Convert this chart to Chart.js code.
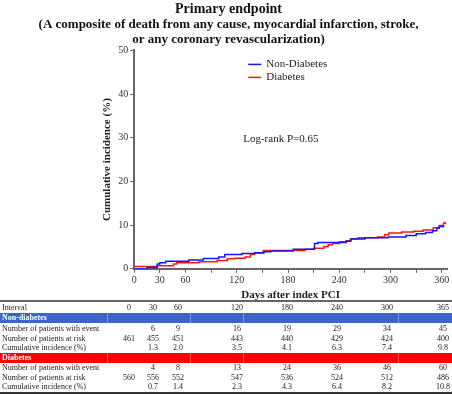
<!DOCTYPE html>
<html>
<head>
<meta charset="utf-8">
<script src="https://cdn.jsdelivr.net/npm/chart.js@4"></script>
<style>
  body { margin: 0; background: #fff; }
  #wrap { position: relative; width: 452px; height: 395px; overflow: hidden; font-family: "Liberation Serif", serif; }
  #chartBox { position: absolute; left: 0; top: 0; width: 452px; height: 302px; }
  #table { position: absolute; left: 0; top: 300px; width: 452px; height: 95px; font-size: 8px; color: #1a1a1a; }
  .row { position: absolute; left: 0; width: 452px; height: 10px; line-height: 10px; }
  .row span { position: absolute; top: 0; }
  .band { color: #fff; font-weight: bold; }
  .sep { position: absolute; top: 0; width: 1px; height: 100%; background: rgba(255,255,255,0.35); }
</style>
</head>
<body>
<div id="wrap">
  <div id="chartBox"><canvas id="kmChart"></canvas></div>
  <div id="table"></div>
</div>
<script>
// curve data (days, cumulative incidence %)
let nonDiabetesDays = [0, 15, 27, 30, 37, 64, 81, 99, 106, 126, 141, 152, 160, 186, 211, 215, 248, 253, 270, 297, 318, 330, 341, 349, 354, 357, 362];
let nonDiabetesInc = [0, 0.3, 1.1, 1.4, 1.7, 2.0, 2.35, 2.7, 3.3, 3.5, 3.7, 3.9, 4.1, 4.5, 5.8, 6.0, 6.3, 6.8, 7.1, 7.3, 7.6, 8.0, 8.3, 8.7, 9.3, 9.7, 9.8];

let diabetesDays = [0, 27, 46, 50, 76, 97, 109, 118, 130, 136, 141, 151, 200, 210, 222, 227, 232, 240, 248, 254, 262, 285, 293, 298, 313, 327, 338, 350, 357, 362, 364];
let diabetesInc = [0.5, 0.7, 1.1, 1.4, 1.6, 1.9, 2.3, 2.4, 2.7, 3.3, 3.6, 4.2, 4.5, 4.7, 5.1, 5.5, 5.8, 6.2, 6.4, 6.9, 7.1, 7.3, 7.8, 8.2, 8.4, 8.6, 8.9, 9.4, 9.9, 10.4, 10.8];

let xTicks = [0, 30, 60, 90, 120, 150, 180, 210, 240, 270, 300, 330, 360];
let xLabelled = [0, 30, 60, 120, 180, 240, 300, 360];
let yTicks = [0, 10, 20, 30, 40, 50];

// risk table
let interval = [0, 30, 60, 120, 180, 240, 300, 365];
let nonDiabetesEvents = ["", 6, 9, 16, 19, 29, 34, 45];
let nonDiabetesAtRisk = [461, 455, 451, 443, 440, 429, 424, 400];
let nonDiabetesCumInc = ["", "1.3", "2.0", "3.5", "4.1", "6.3", "7.4", "9.8"];
let diabetesEvents = ["", 4, 8, 13, 24, 36, 46, 60];
let diabetesAtRisk = [560, 556, 552, 547, 536, 524, 512, 486];
let diabetesCumInc = ["", "0.7", "1.4", "2.3", "4.3", "6.4", "8.2", "10.8"];

let serif = "'Liberation Serif', 'Times New Roman', serif";

function toPoints(days, vals) {
    return days.map((d, i) => ({ x: d, y: vals[i] }));
}

// legend + log-rank text inside the plot
let notes = {
    id: "notes",
    afterDraw(chart) {
        let c = chart.ctx;
        let a = chart.chartArea;
        let lx = a.left + 114;
        let ly = a.top + 14;
        c.save();
        c.font = "11px " + serif;
        c.textBaseline = "middle";
        c.fillStyle = "#222";
        chart.data.datasets.forEach((ds, i) => {
            let y = ly + i * 13;
            c.strokeStyle = ds.borderColor;
            c.lineWidth = 1.5;
            c.beginPath();
            c.moveTo(lx, y);
            c.lineTo(lx + 13, y);
            c.stroke();
            c.fillText(ds.label, lx + 18, y);
        });
        c.fillText("Log-rank P=0.65", a.left + 109, a.top + 89);
        c.restore();
    }
};

let ctx = document.getElementById("kmChart").getContext("2d");
let chart = new Chart(ctx, {
    type: "line",
    data: {
        datasets: [
            {
                label: "Non-Diabetes",
                data: toPoints(nonDiabetesDays, nonDiabetesInc),
                borderColor: "rgb(20,20,255)",
                borderWidth: 1.5,
                stepped: true,
                pointRadius: 0,
                fill: false
            },
            {
                label: "Diabetes",
                data: toPoints(diabetesDays, diabetesInc),
                borderColor: "rgb(255,20,20)",
                borderWidth: 1.5,
                stepped: true,
                pointRadius: 0,
                fill: false
            }
        ]
    },
    options: {
        responsive: true,
        maintainAspectRatio: false,
        animation: false,
        layout: { padding: { left: 10, right: 5, top: 0, bottom: 0 } },
        plugins: {
            legend: { display: false },
            tooltip: { enabled: false },
            title: {
                display: true,
                text: "Primary endpoint",
                color: "#111",
                font: { family: serif, size: 14, weight: "bold" },
                padding: { top: 1, bottom: 0 }
            },
            subtitle: {
                display: true,
                text: ["(A composite of death from any cause, myocardial infarction, stroke,",
                       "or any coronary revascularization)"],
                color: "#111",
                font: { family: serif, size: 13, weight: "bold", lineHeight: 1.1 },
                padding: { top: 0, bottom: 4 }
            }
        },
        scales: {
            x: {
                type: "linear",
                min: 0,
                max: 366,
                afterBuildTicks: s => { s.ticks = xTicks.map(v => ({ value: v })); },
                border: { color: "#666", width: 2 },
                grid: { drawOnChartArea: false, tickLength: 4, color: "#666" },
                ticks: {
                    color: "#333",
                    font: { family: serif, size: 10 },
                    padding: 2,
                    maxRotation: 0,
                    autoSkip: false,
                    callback: v => xLabelled.includes(v) ? String(v) : ""
                },
                title: {
                    display: true,
                    text: "Days after index PCI",
                    color: "#222",
                    font: { family: serif, size: 11, weight: "bold" },
                    padding: { top: 0, bottom: 0 }
                }
            },
            y: {
                min: 0,
                max: 50,
                afterBuildTicks: s => { s.ticks = yTicks.map(v => ({ value: v })); },
                border: { color: "#666", width: 2 },
                grid: { drawOnChartArea: false, tickLength: 4, color: "#666" },
                ticks: {
                    color: "#333",
                    font: { family: serif, size: 10 },
                    padding: 2
                },
                title: {
                    display: true,
                    text: "Cumulative incidence (%)",
                    color: "#222",
                    font: { family: serif, size: 11, weight: "bold" },
                    padding: { top: 91, bottom: 2 }
                }
            }
        }
    },
    plugins: [notes]
});

// build the table under the chart
let colX = [129, 153, 178, 237, 287, 337, 387, 443];
let table = document.getElementById("table");

function addRow(top, label, values, cls, bg) {
    let row = document.createElement("div");
    row.className = "row" + (cls ? " " + cls : "");
    row.style.top = top + "px";
    if (bg) {
        row.style.background = bg;
        [107, 190, 243, 398].forEach(x => {
            let s = document.createElement("div");
            s.className = "sep";
            s.style.left = x + "px";
            row.appendChild(s);
        });
    }
    let l = document.createElement("span");
    l.textContent = label;
    l.style.left = "2px";
    row.appendChild(l);
    (values || []).forEach((v, i) => {
        let s = document.createElement("span");
        s.textContent = v;
        s.style.left = (colX[i] - 20) + "px";
        s.style.width = "40px";
        s.style.textAlign = "center";
        row.appendChild(s);
    });
    table.appendChild(row);
}

let line = document.createElement("div");
line.style.cssText = "position:absolute;left:0;top:0;width:452px;height:2px;background:#666";
table.appendChild(line);

addRow(3, "Interval", interval);
addRow(13, "Non-diabetes", null, "band", "#3b66c6");
addRow(24, "Number of patients with event", nonDiabetesEvents);
addRow(33.5, "Number of patients at risk", nonDiabetesAtRisk);
addRow(43, "Cumulative incidence (%)", nonDiabetesCumInc);
addRow(52.5, "Diabetes", null, "band", "#ff0000");
addRow(63, "Number of patients with event", diabetesEvents);
addRow(72.5, "Number of patients at risk", diabetesAtRisk);
addRow(82, "Cumulative incidence (%)", diabetesCumInc);

let bottom = document.createElement("div");
bottom.style.cssText = "position:absolute;left:0;top:92px;width:452px;height:1.5px;background:#333";
table.appendChild(bottom);
</script>
</body>
</html>
